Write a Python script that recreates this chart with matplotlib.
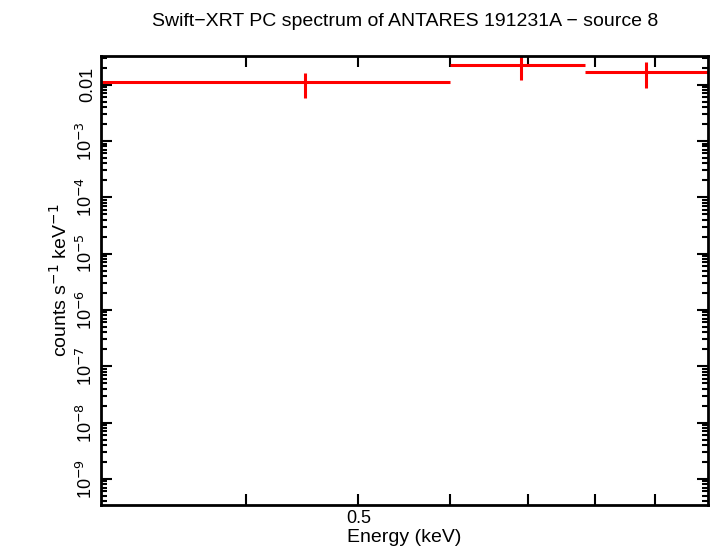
import matplotlib
matplotlib.use("Agg")
import matplotlib.pyplot as plt
from matplotlib.ticker import FixedLocator, NullFormatter, LogLocator, FixedFormatter

plt.rcParams["font.family"] = "Liberation Sans"

x_lo = [0.30, 0.60, 0.784]
x_hi = [0.60, 0.784, 1.00]
x_c = [0.45, 0.69, 0.885]
y = [0.0113, 0.0226, 0.0168]
y_lo = [0.0059, 0.0123, 0.0087]
y_hi = [0.0163, 0.0327, 0.0256]

fig = plt.figure(figsize=(7.10, 5.56), dpi=100)
ax = fig.add_axes([0.142, 0.092, 0.855, 0.807])
for i in range(len(y)):
    ax.plot([x_lo[i], x_hi[i]], [y[i], y[i]], color="red", lw=2.2, solid_capstyle="butt")
    ax.plot([x_c[i], x_c[i]], [y_lo[i], y_hi[i]], color="red", lw=2.2, solid_capstyle="butt")
ax.set_xscale("log"); ax.set_yscale("log")
ax.set_xlim(0.3, 1.0); ax.set_ylim(3.46e-10, 0.032)
ax.xaxis.set_major_locator(FixedLocator([0.4, 0.5, 0.6, 0.7, 0.8, 0.9]))
ax.xaxis.set_major_formatter(FixedFormatter(["", "0.5", "", "", "", ""]))
ax.xaxis.set_minor_locator(FixedLocator([]))
ax.yaxis.set_major_locator(FixedLocator([1e-9,1e-8,1e-7,1e-6,1e-5,1e-4,1e-3,1e-2]))
ax.yaxis.set_major_formatter(FixedFormatter([r"10$^{-9}$", r"10$^{-8}$", r"10$^{-7}$", r"10$^{-6}$", r"10$^{-5}$", r"10$^{-4}$", r"10$^{-3}$", "0.01"]))
ax.yaxis.set_minor_locator(LogLocator(base=10, subs=range(2, 10), numticks=30))
ax.yaxis.set_minor_formatter(NullFormatter())
ax.tick_params(which="both", direction="in", top=True, right=True, width=1.5, labelsize=13)
ax.tick_params(which="major", length=8)
ax.tick_params(which="minor", length=4)
for lab in ax.get_yticklabels():
    lab.set_rotation(90); lab.set_va("center")
for s in ax.spines.values():
    s.set_linewidth(2)
ax.set_xlabel("Energy (keV)", fontsize=14, labelpad=2)
ax.set_ylabel("counts s$^{-1}$ keV$^{-1}$", fontsize=14)
fig.text(0.57, 0.962, "Swift\u2212XRT PC spectrum of ANTARES 191231A \u2212 source 8", ha="center", va="center", fontsize=14)
fig.savefig("out.png", dpi=100)
